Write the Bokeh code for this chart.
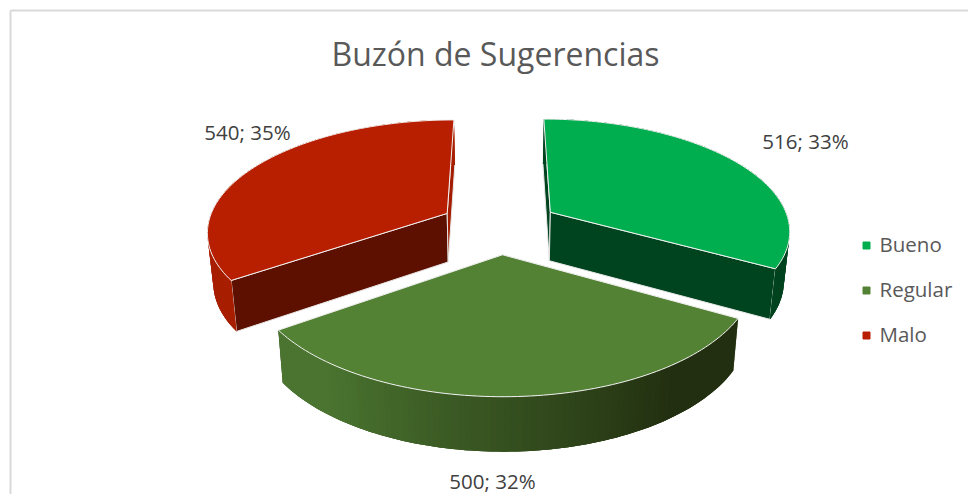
import math
from bokeh.plotting import figure
from bokeh.models import Range1d, ColumnDataSource
from bokeh.embed import file_html
from bokeh.resources import INLINE
from bokeh.core.properties import value

TITLE = "Buzón de Sugerencias"
categories = ["Bueno", "Regular", "Malo"]
values = [516, 500, 540]

top_colors = ["#00AE4F", "#548235", "#B81E00"]
near_face_colors = ["#00441F", "#25330F", "#5E1000"]
far_face_colors = ["#00441F", "#25330F", "#A31C00"]
wall_left = ["#00431F", "#4A7430", "#A81E00"]
wall_right = ["#00431F", "#222F10", "#A81E00"]

CX, CY = 499.0, 225.5
RX, RY = 240.0, 111.0
PERSP = 0.15
EXPLODE = 0.25
DEPTH = 49.0
NARROW = 0.02
FONT = "Open Sans"
W, H = 968, 494


def project(x, y, drop=0.0):
    k = 1.0 / (1.0 + PERSP * y)
    return (CX + RX * x * k * (1 - NARROW * drop),
            CY - RY * y * k + drop * DEPTH * k ** 0.55)


def mix(a, b, t):
    ca = [int(a[i:i + 2], 16) for i in (1, 3, 5)]
    cb = [int(b[i:i + 2], 16) for i in (1, 3, 5)]
    return "#%02x%02x%02x" % tuple(round(u + (v - u) * t) for u, v in zip(ca, cb))


p = figure(width=W, height=H, output_backend="svg", toolbar_location=None,
           x_range=Range1d(0, W), y_range=Range1d(H, 0),
           min_border=0, outline_line_color=None)
p.axis.visible = False
p.grid.visible = False
p.background_fill_color = "white"
p.border_fill_color = "white"

# chart frame
p.line([10, 10], [10, H], line_color="#D9D9D9", line_width=2)
p.line([10, W], [10, 10], line_color="#D9D9D9", line_width=2)

total = sum(values)
spans = []
acc = 0.0
for v in values:
    spans.append((acc / total * 2 * math.pi, (acc + v) / total * 2 * math.pi))
    acc += v

for i in (2, 0, 1):
    a0, a1 = spans[i]
    mid = (a0 + a1) / 2
    ox, oy = EXPLODE * math.sin(mid), EXPLODE * math.cos(mid)
    n = 90
    rim = [(ox + math.sin(a0 + (a1 - a0) * j / n), oy + math.cos(a0 + (a1 - a0) * j / n))
           for j in range(n + 1)]

    # cut faces
    for (ex, ey), col in ((rim[0], near_face_colors[i]), (rim[-1], far_face_colors[i])):
        q = [project(ox, oy), project(ex, ey), project(ex, ey, 1), project(ox, oy, 1)]
        p.patch([c[0] for c in q], [c[1] for c in q], fill_color=col,
                line_color="#E8E8E8", line_width=1)

    # outer wall: a base shape, then overlapping shaded strips
    outline = [project(x, y) for x, y in rim] + [project(x, y, 1) for x, y in reversed(rim)]
    p.patch([c[0] for c in outline], [c[1] for c in outline],
            fill_color=mix(wall_left[i], wall_right[i], 0.5), line_color=None)
    xs, ys, cols = [], [], []
    for j in range(n):
        seg = rim[j:min(j + 3, n + 1)]
        q = [project(x, y) for x, y in seg] + [project(x, y, 1) for x, y in reversed(seg)]
        xs.append([c[0] for c in q])
        ys.append([c[1] for c in q])
        cols.append(mix(wall_right[i], wall_left[i], max(0.0, min(1.0, (j / n - 0.2) / 0.65))))
    p.patches(xs="xs", ys="ys", fill_color="cols", line_color=None,
              source=ColumnDataSource(dict(xs=xs, ys=ys, cols=cols)))

    # top surface
    pts = [project(ox, oy)] + [project(x, y) for x, y in rim]
    p.patch([c[0] for c in pts], [c[1] for c in pts], fill_color=top_colors[i],
            line_color="#F2F2F2", line_width=1)

# title
p.text([495], [53], text=[TITLE], text_font=value(FONT), text_font_size="32px",
       text_color="#595959", text_align="center", text_baseline="middle")

# data labels
label_x = [805, 492, 247]
label_y = [140, 480, 131]
labels = [f"{v}; {round(v / total * 100)}%" for v in values]
p.text(label_x, label_y, text=labels, text_font=value(FONT), text_font_size="20.5px",
       text_color="#404040", text_align="center", text_baseline="middle")

# legend
legend_y = [243, 288, 333]
p.scatter([866] * 3, [245, 290, 335], marker="square", size=7, color=top_colors)
p.text([879] * 3, legend_y, text=categories, text_font=value(FONT), text_font_size="20.5px",
       text_color="#595959", text_align="left", text_baseline="middle")

open("out.html", "w").write(file_html(p, INLINE))
